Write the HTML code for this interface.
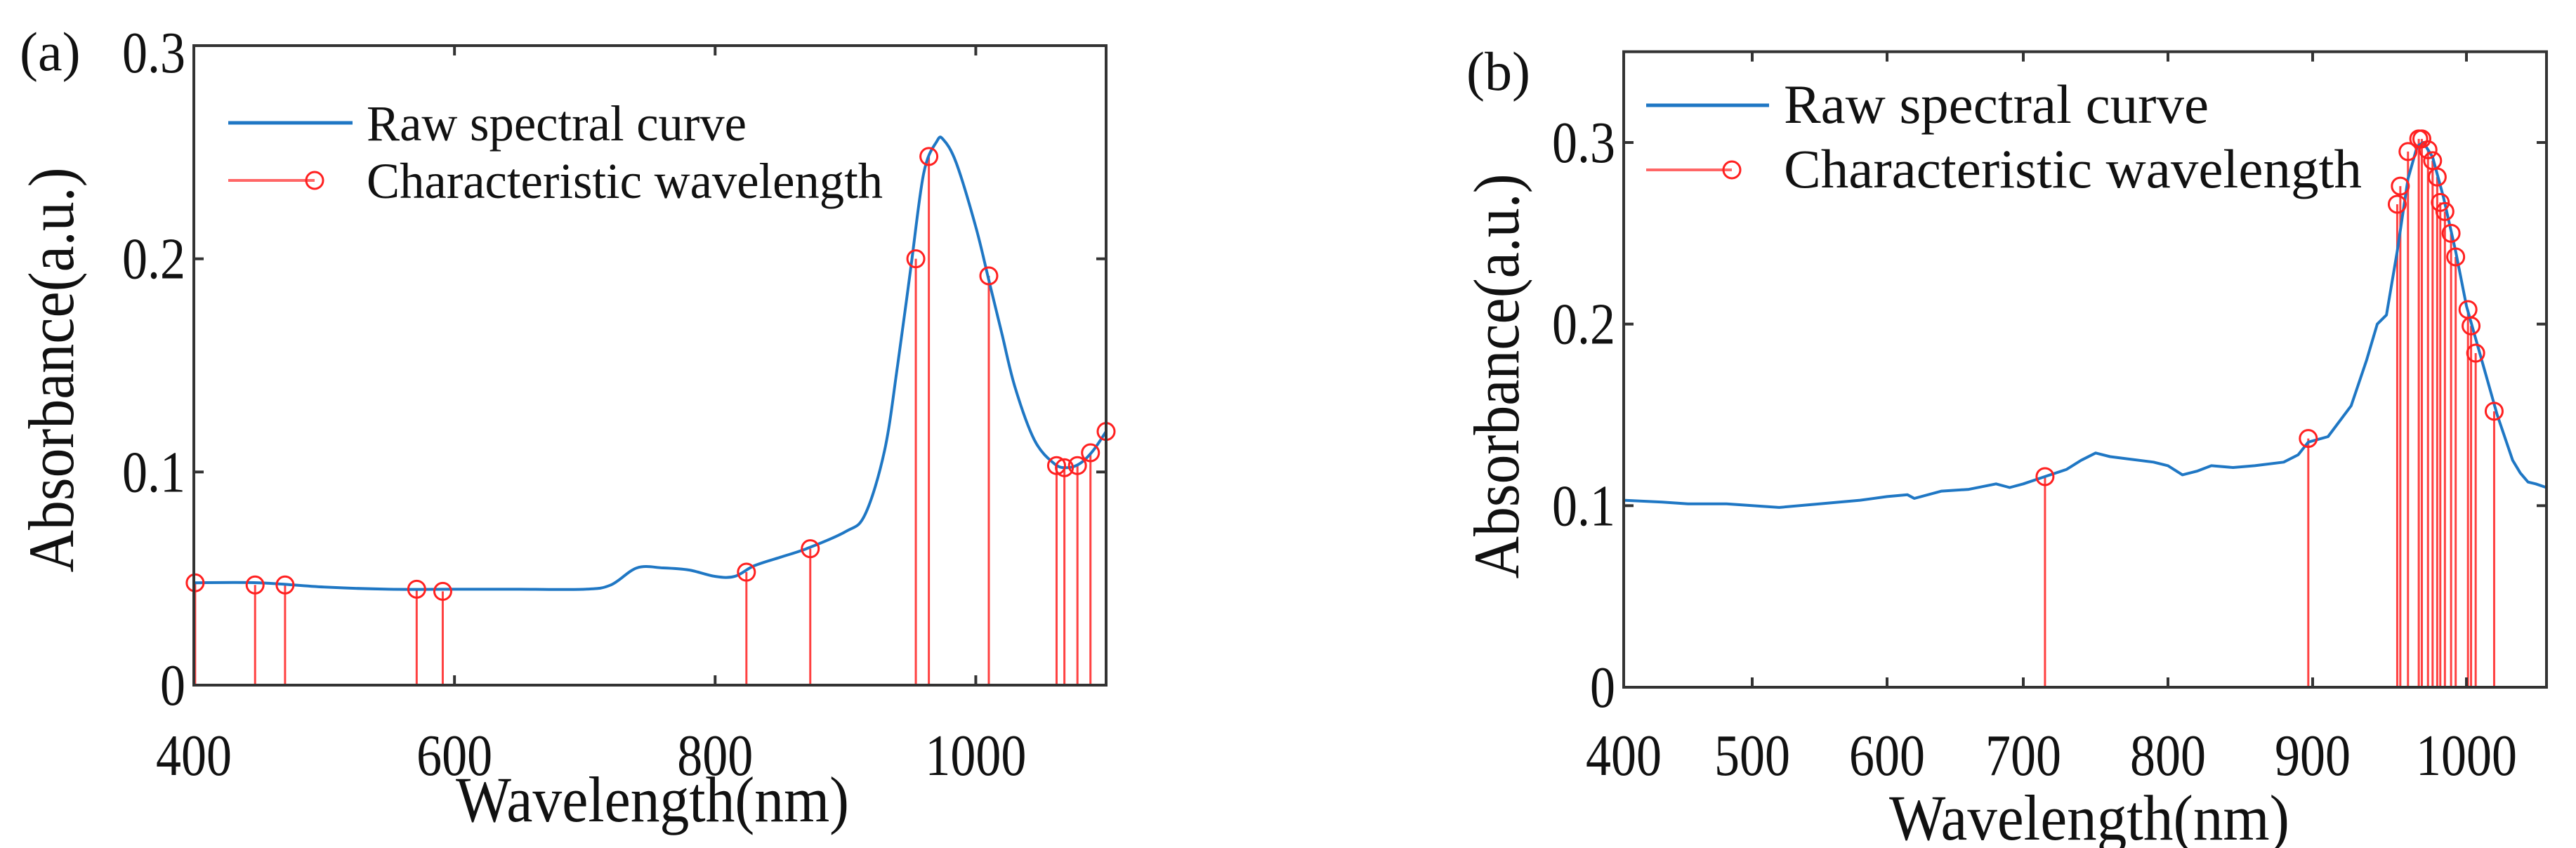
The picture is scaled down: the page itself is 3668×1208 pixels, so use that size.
<!DOCTYPE html>
<html><head><meta charset="utf-8"><style>
html,body{margin:0;padding:0;background:#fff;}
svg{display:block;}
text{font-family:"Liberation Serif",serif;fill:#111;}
</style></head><body>
<svg id="fig" width="3668" height="1208" viewBox="0 0 3668 1208" xmlns="http://www.w3.org/2000/svg"></svg>
<script>
// ---------- Panel (a) data ----------
const aCurveX=[400,450,500,550,600,650,700,720,740,760,780,800,815,830,850,870,900,915,930,940,950,960,970,975,985,1000,1010,1020,1030,1045,1060,1070,1080,1090,1100];
const aCurveY=[0.048,0.048,0.046,0.045,0.045,0.045,0.045,0.047,0.055,0.055,0.054,0.051,0.051,0.056,0.060,0.064,0.072,0.080,0.110,0.150,0.195,0.240,0.255,0.256,0.245,0.215,0.190,0.165,0.140,0.115,0.104,0.102,0.104,0.110,0.119];
const aMarkX=[401,447,470,571,591,824,873,954,964,1010,1062,1068,1078,1088,1100];
const aMarkY=[0.048,0.047,0.047,0.045,0.044,0.053,0.064,0.200,0.248,0.192,0.103,0.102,0.103,0.109,0.119];
const aXTicks=[400,600,800,1000];
const aYTicks=[0,0.1,0.2,0.3];
// ---------- Panel (b) data ----------
const bCurveX=[400,430,450,480,500,520,550,580,600,615,620,640,660,680,690,700,715,730,740,750,760,770,790,800,810,820,830,845,860,880,890,897,910,925,935,942,948,955,962,968,972,978,985,993,1000,1010,1020,1030,1035,1040,1045,1052];
const bCurveY=[0.103,0.102,0.101,0.101,0.100,0.099,0.101,0.103,0.105,0.106,0.104,0.108,0.109,0.112,0.110,0.112,0.116,0.120,0.125,0.129,0.127,0.126,0.124,0.122,0.117,0.119,0.122,0.121,0.122,0.124,0.128,0.135,0.138,0.155,0.180,0.200,0.205,0.240,0.280,0.298,0.300,0.292,0.270,0.240,0.210,0.180,0.150,0.125,0.118,0.113,0.112,0.110];
const bMarkX=[715,897,955,957,962,969,971,975,978,981,983,986,990,993,1001,1003,1006,1018];
const bMarkY=[0.116,0.137,0.266,0.276,0.295,0.302,0.302,0.296,0.290,0.281,0.267,0.262,0.250,0.237,0.208,0.199,0.184,0.152];
const bXTicks=[400,500,600,700,800,900,1000];
const bYTicks=[0,0.1,0.2,0.3];

const NS="http://www.w3.org/2000/svg";
const svg=document.getElementById('fig');
function mk(tag,attrs,parent){const e=document.createElementNS(NS,tag);for(const k in attrs)e.setAttribute(k,attrs[k]);(parent||svg).appendChild(e);return e;}

const aX=v=>276+(v-400)*(1575-276)/(1100-400);
const aY=v=>976-v*(976-65)/0.3;
const bCal=[[400,2312],[500,2495],[600,2687],[700,2881],[800,3087],[900,3293],[1000,3512],[1052,3626]];
const bX=v=>{for(let i=0;i<bCal.length-1;i++){const [v0,p0]=bCal[i],[v1,p1]=bCal[i+1];if(v<=v1||i===bCal.length-2)return p0+(v-v0)*(p1-p0)/(v1-v0);}};
const bY=v=>979-v*(979-203)/0.3;

function smoothPath(pts){
  let d='M'+pts[0][0].toFixed(1)+' '+pts[0][1].toFixed(1);
  for(let i=0;i<pts.length-1;i++){
    const p0=pts[i-1]||pts[i],p1=pts[i],p2=pts[i+1],p3=pts[i+2]||p2;
    const c1x=p1[0]+(p2[0]-p0[0])/6,c1y=p1[1]+(p2[1]-p0[1])/6;
    const c2x=p2[0]-(p3[0]-p1[0])/6,c2y=p2[1]-(p3[1]-p1[1])/6;
    d+=` C${c1x.toFixed(1)} ${c1y.toFixed(1)} ${c2x.toFixed(1)} ${c2y.toFixed(1)} ${p2[0].toFixed(1)} ${p2[1].toFixed(1)}`;
  }
  return d;
}

function panel(o){
  const g=mk('g',{});
  
  
  o.mx.forEach((x,i)=>{
    const l=mk('line',{x1:o.X(x),x2:o.X(x),y1:o.Y(0),y2:o.Y(o.my[i]),stroke:'#ff2020','stroke-width':3,'stroke-opacity':0.85},g);
    
    
  });
  const pts=o.cx.map((x,i)=>[o.X(x),o.Y(o.cy[i])]);
  const d=o.smooth?smoothPath(pts):pts.map((p,i)=>(i?'L':'M')+p[0].toFixed(1)+' '+p[1].toFixed(1)).join(' ');
  const p=mk('path',{d:d,fill:'none',stroke:'#1f77c4','stroke-width':4,'stroke-linejoin':'round'},g);
  
  
  o.mx.forEach((x,i)=>{
    const c=mk('circle',{cx:o.X(x),cy:o.Y(o.my[i]),r:12,fill:'none',stroke:'#ff2020','stroke-width':3},g);
    
    
  });
  const L=o.X(o.xmin),R=o.X(o.xmax),T=o.Y(o.ymax),B=o.Y(0);
  const f=mk('rect',{x:L,y:T,width:R-L,height:B-T,fill:'none',stroke:'#333','stroke-width':4},g);
  
  
  o.xt.forEach(v=>{
    const x=o.X(v);
    mk('line',{x1:x,x2:x,y1:B,y2:B-14,stroke:'#333','stroke-width':4},g);
    mk('line',{x1:x,x2:x,y1:T,y2:T+14,stroke:'#333','stroke-width':4},g);
    const t=mk('text',{x:x,y:o.tickY,'font-size':84,'text-anchor':'middle',textLength:String(v).length*36,lengthAdjust:'spacingAndGlyphs'},g);
    t.textContent=String(v);
    
    
  });
  o.yt.forEach(v=>{
    const y=o.Y(v);
    mk('line',{x1:L,x2:L+14,y1:y,y2:y,stroke:'#333','stroke-width':4},g);
    mk('line',{x1:R,x2:R-14,y1:y,y2:y,stroke:'#333','stroke-width':4},g);
    const s=v===0?'0':v.toFixed(1);
    const t=mk('text',{x:L-12,y:y+28+(v===0.3&&o.name==='panel-a'?10:0),'font-size':84,'text-anchor':'end',textLength:v===0?36:90,lengthAdjust:'spacingAndGlyphs'},g);
    t.textContent=s;
    
    
  });
  const xt=mk('text',{x:o.xtX,y:o.xtY,'font-size':92,'text-anchor':'middle',textLength:o.xtLen,lengthAdjust:'spacingAndGlyphs'},g);
  xt.textContent='Wavelength(nm)';
  
  
  const yt=mk('text',{x:0,y:0,'font-size':92,'text-anchor':'middle',textLength:o.ytLen,lengthAdjust:'spacingAndGlyphs',transform:`translate(${o.ytX},${o.ytY}) rotate(-90)`},g);
  yt.textContent='Absorbance(a.u.)';
  
  
  const pl=mk('text',{x:o.plX,y:o.plY,'font-size':78},g);
  pl.textContent=o.label;
  
  
  const lg=mk('g',{},g);
  
  
  mk('line',{x1:o.lgX1,x2:o.lgX2,y1:o.lgY1,y2:o.lgY1,stroke:'#1f77c4','stroke-width':5},lg);
  mk('line',{x1:o.lgX1,x2:o.lgC,y1:o.lgY2,y2:o.lgY2,stroke:'#ff4040','stroke-width':4,'stroke-opacity':0.8},lg);
  mk('circle',{cx:o.lgC,cy:o.lgY2,r:12,fill:'none',stroke:'#ff2020','stroke-width':3},lg);
  const t1=mk('text',{x:o.lgT,y:o.lgY1+25,'font-size':o.lgF,textLength:o.l1Len,lengthAdjust:'spacingAndGlyphs'},lg);
  t1.textContent='Raw spectral curve';
  
  
  const t2=mk('text',{x:o.lgT,y:o.lgY2+25,'font-size':o.lgF,textLength:o.l2Len,lengthAdjust:'spacingAndGlyphs'},lg);
  t2.textContent='Characteristic wavelength';
  
  
}

panel({name:'panel-a',label:'(a)',smooth:true,X:aX,Y:aY,xmin:400,xmax:1100,ymax:0.3,cx:aCurveX,cy:aCurveY,mx:aMarkX,my:aMarkY,xt:aXTicks,yt:aYTicks,
  tickY:1104,xtX:929,xtY:1170,xtLen:560,ytX:104,ytY:527,ytLen:577,plX:28,plY:100,
  lgX1:325,lgX2:502,lgY1:175,lgY2:257,lgC:448,lgT:522,lgF:72,l1Len:541,l2Len:735});
panel({name:'panel-b',label:'(b)',smooth:false,X:bX,Y:bY,xmin:400,xmax:1052,ymax:0.35,cx:bCurveX,cy:bCurveY,mx:bMarkX,my:bMarkY,xt:bXTicks,yt:bYTicks,
  tickY:1104,xtX:2975,xtY:1196,xtLen:570,ytX:2162,ytY:536,ytLen:577,plX:2088,plY:128,
  lgX1:2344,lgX2:2519,lgY1:150,lgY2:242,lgC:2466,lgT:2540,lgF:78,l1Len:605,l2Len:823});
</script>
</body></html>
